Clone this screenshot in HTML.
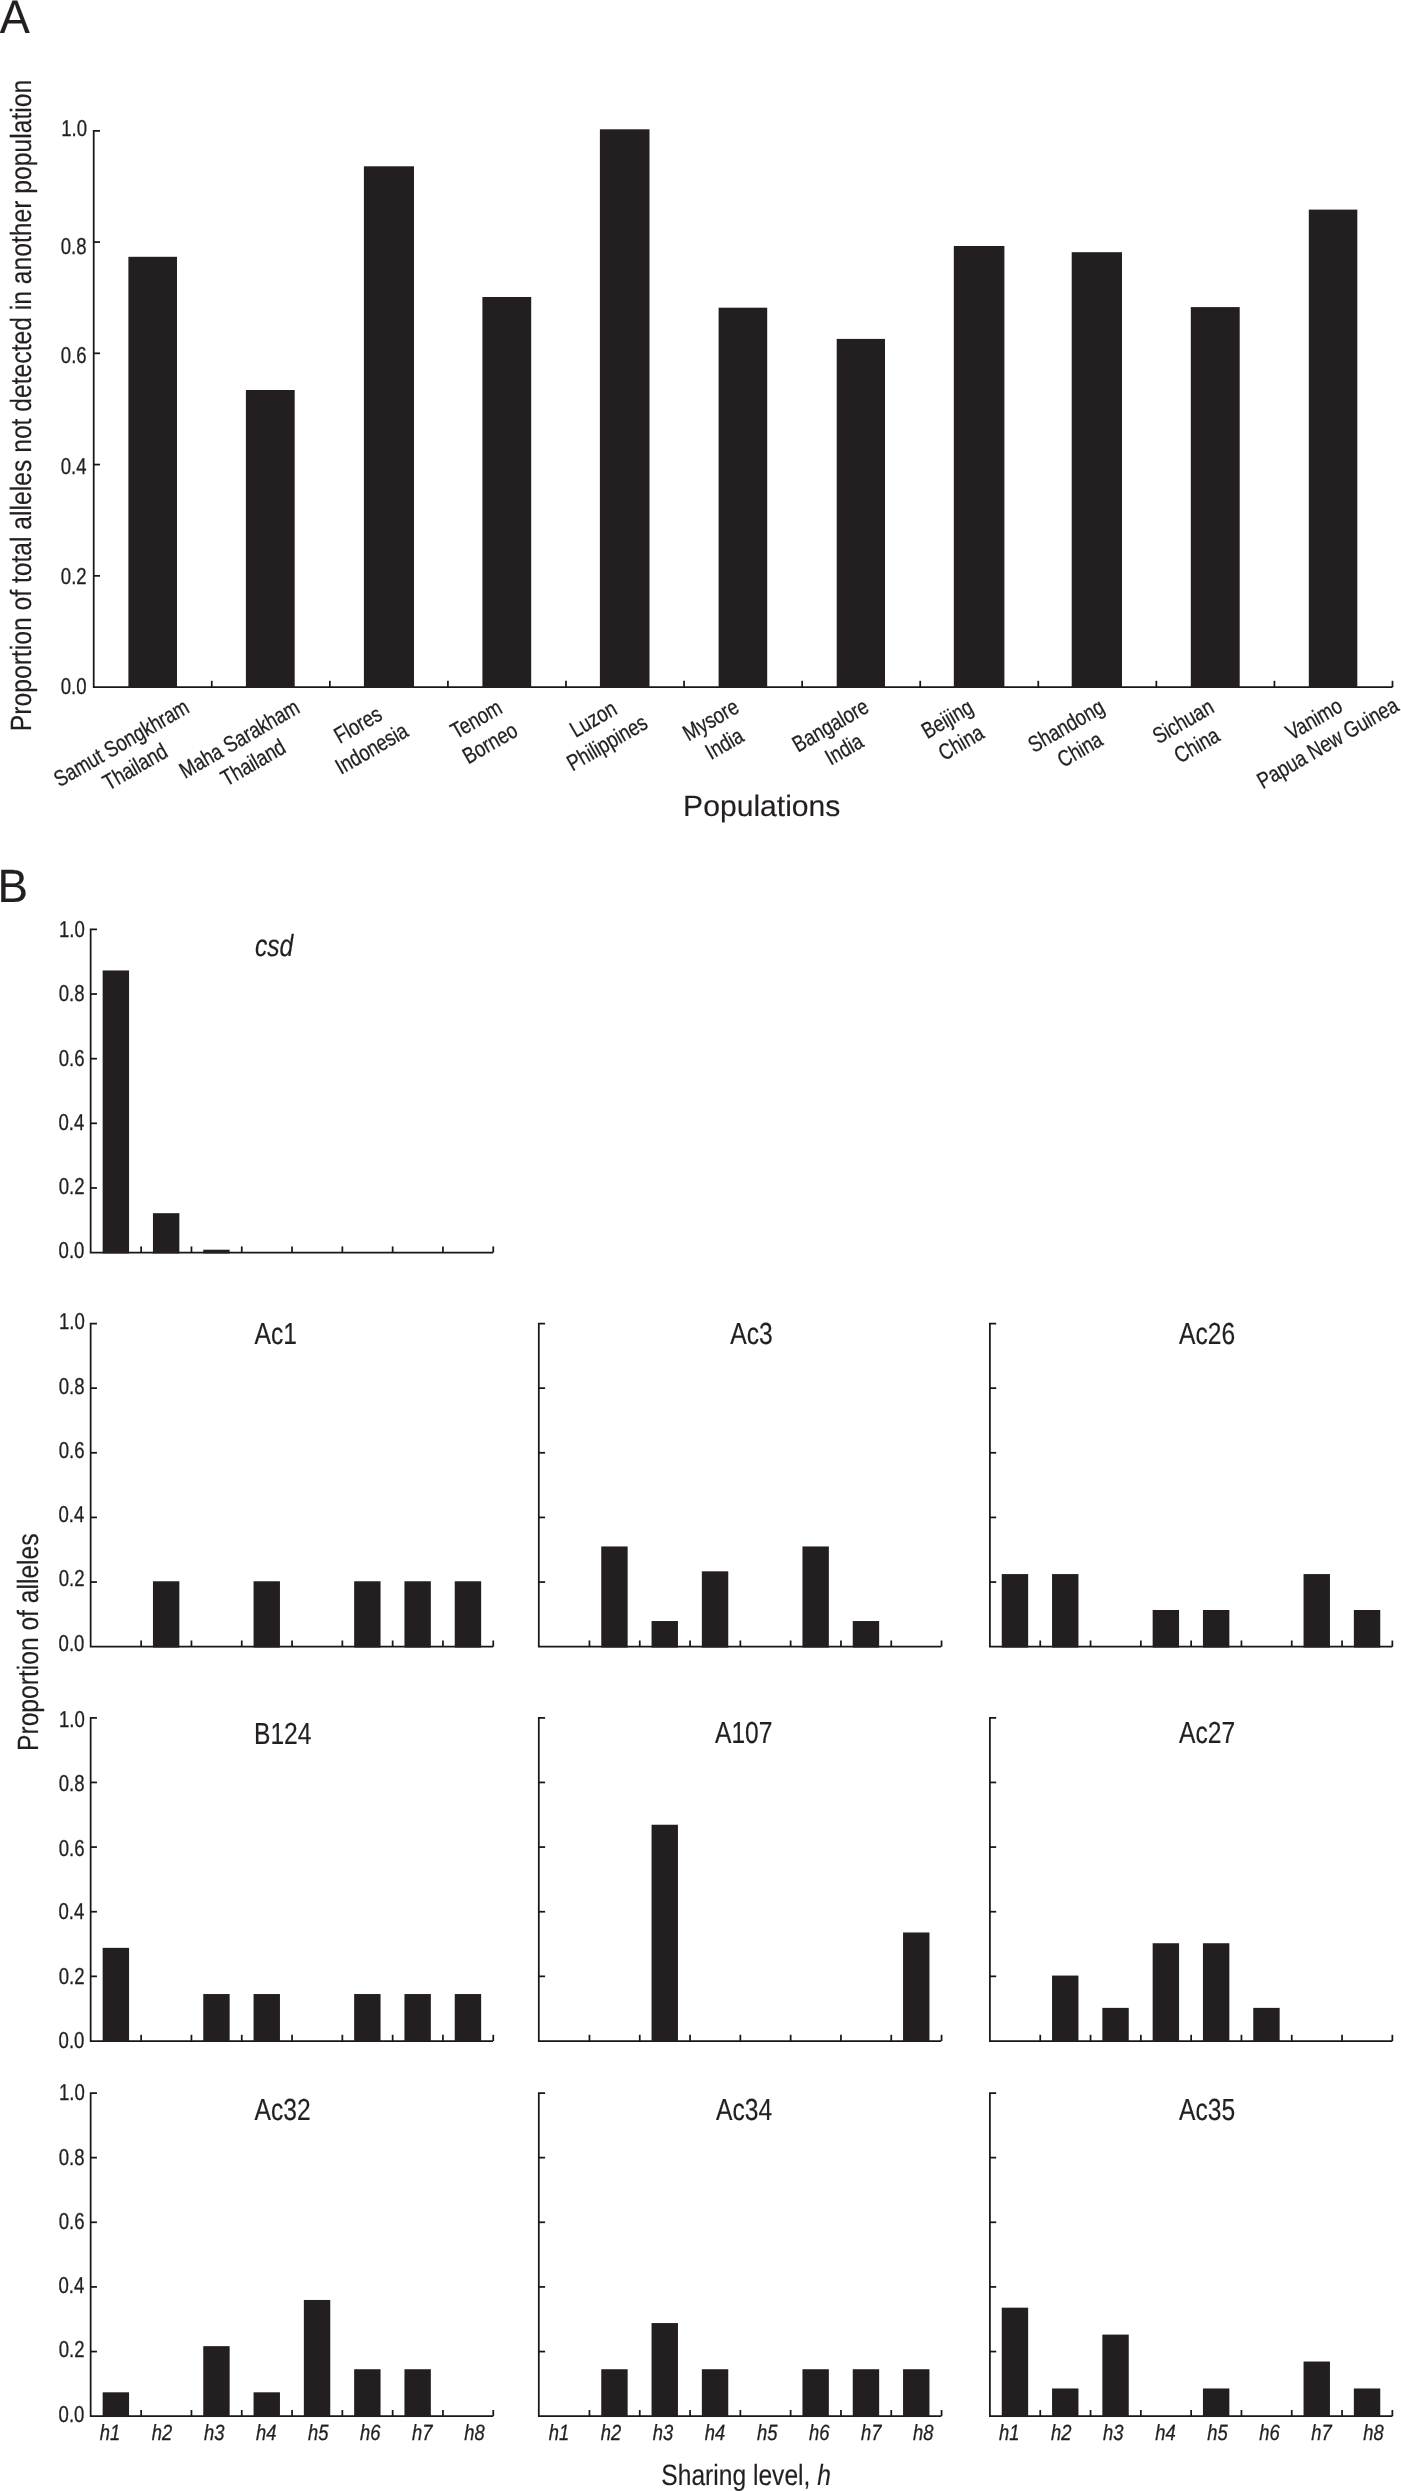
<!DOCTYPE html>
<html><head><meta charset="utf-8"><title>Figure</title>
<style>
html,body{margin:0;padding:0;background:#fff;}
svg{display:block;will-change:transform;}
text{font-family:"Liberation Sans",sans-serif;text-rendering:geometricPrecision;fill:#231f20;stroke:#231f20;}
</style></head><body>
<svg width="1401" height="2491" viewBox="0 0 1401 2491" stroke-width="0.3">
<rect width="1401" height="2491" fill="#ffffff"/>
<text id="pA" transform="translate(-0.16,32.90) scale(0.9550,1)" font-size="47.2" text-anchor="start" stroke-width="0.15">A</text>
<path d="M100.0 130.8H93.7V687.1H1392.5" stroke="#1a1617" stroke-width="1.75" fill="none"/>
<text id="tA0" transform="translate(86.62,694.20) scale(0.8080,1)" font-size="23" text-anchor="end">0.0</text>
<path d="M93.70 575.84L100.00 575.84" stroke="#1a1617" stroke-width="1.75" fill="none"/>
<text id="tA1" transform="translate(86.64,583.80) scale(0.8080,1)" font-size="23" text-anchor="end">0.2</text>
<path d="M93.70 464.58L100.00 464.58" stroke="#1a1617" stroke-width="1.75" fill="none"/>
<text id="tA2" transform="translate(86.50,474.05) scale(0.8080,1)" font-size="23" text-anchor="end">0.4</text>
<path d="M93.70 353.32L100.00 353.32" stroke="#1a1617" stroke-width="1.75" fill="none"/>
<text id="tA3" transform="translate(86.64,363.14) scale(0.8080,1)" font-size="23" text-anchor="end">0.6</text>
<path d="M93.70 242.06L100.00 242.06" stroke="#1a1617" stroke-width="1.75" fill="none"/>
<text id="tA4" transform="translate(86.63,253.79) scale(0.8080,1)" font-size="23" text-anchor="end">0.8</text>
<text id="tA5" transform="translate(87.02,135.81) scale(0.8080,1)" font-size="23" text-anchor="end">1.0</text>
<path d="M211.77 687.10L211.77 680.80" stroke="#1a1617" stroke-width="1.75" fill="none"/>
<path d="M329.85 687.10L329.85 680.80" stroke="#1a1617" stroke-width="1.75" fill="none"/>
<path d="M447.92 687.10L447.92 680.80" stroke="#1a1617" stroke-width="1.75" fill="none"/>
<path d="M565.99 687.10L565.99 680.80" stroke="#1a1617" stroke-width="1.75" fill="none"/>
<path d="M684.06 687.10L684.06 680.80" stroke="#1a1617" stroke-width="1.75" fill="none"/>
<path d="M802.14 687.10L802.14 680.80" stroke="#1a1617" stroke-width="1.75" fill="none"/>
<path d="M920.21 687.10L920.21 680.80" stroke="#1a1617" stroke-width="1.75" fill="none"/>
<path d="M1038.28 687.10L1038.28 680.80" stroke="#1a1617" stroke-width="1.75" fill="none"/>
<path d="M1156.35 687.10L1156.35 680.80" stroke="#1a1617" stroke-width="1.75" fill="none"/>
<path d="M1274.43 687.10L1274.43 680.80" stroke="#1a1617" stroke-width="1.75" fill="none"/>
<path d="M1392.50 687.10L1392.50 680.80" stroke="#1a1617" stroke-width="1.75" fill="none"/>
<rect x="128.40" y="256.80" width="48.60" height="431.15" fill="#231f20"/>
<rect x="245.90" y="390.00" width="48.80" height="297.95" fill="#231f20"/>
<rect x="363.90" y="166.30" width="50.10" height="521.65" fill="#231f20"/>
<rect x="482.40" y="297.00" width="48.80" height="390.95" fill="#231f20"/>
<rect x="599.90" y="129.30" width="49.60" height="558.65" fill="#231f20"/>
<rect x="718.60" y="307.70" width="48.60" height="380.25" fill="#231f20"/>
<rect x="836.70" y="338.90" width="48.30" height="349.05" fill="#231f20"/>
<rect x="953.80" y="246.00" width="50.60" height="441.95" fill="#231f20"/>
<rect x="1071.70" y="252.20" width="50.30" height="435.75" fill="#231f20"/>
<rect x="1190.80" y="307.10" width="48.90" height="380.85" fill="#231f20"/>
<rect x="1308.80" y="209.60" width="48.50" height="478.35" fill="#231f20"/>
<text id="ylA" transform="translate(30.85,405.49) rotate(-90) scale(0.8420,1)" font-size="29.3" text-anchor="middle" stroke-width="0.15">Proportion of total alleles not detected in another population</text>
<text id="xlA" transform="translate(761.73,816.40) scale(1.0200,1)" font-size="29.5" text-anchor="middle" stroke-width="0.15">Populations</text>
<g id="rl0" transform="translate(128.07,754.61) rotate(-30)">
<text transform="translate(0,-5.85) scale(0.81,1)" font-size="22.6" text-anchor="middle">Samut Songkhram</text>
<text transform="translate(0,21.65) scale(0.81,1)" font-size="22.6" text-anchor="middle">Thailand</text>
</g>
<g id="rl1" transform="translate(246.11,750.47) rotate(-30)">
<text transform="translate(0,-5.85) scale(0.81,1)" font-size="22.6" text-anchor="middle">Maha Sarakham</text>
<text transform="translate(0,21.65) scale(0.81,1)" font-size="22.6" text-anchor="middle">Thailand</text>
</g>
<g id="rl2" transform="translate(364.65,736.40) rotate(-30)">
<text transform="translate(0,-5.85) scale(0.81,1)" font-size="22.6" text-anchor="middle">Flores</text>
<text transform="translate(0,21.65) scale(0.81,1)" font-size="22.6" text-anchor="middle">Indonesia</text>
</g>
<g id="rl3" transform="translate(482.91,730.95) rotate(-30)">
<text transform="translate(0,-5.85) scale(0.81,1)" font-size="22.6" text-anchor="middle">Tenom</text>
<text transform="translate(0,21.65) scale(0.81,1)" font-size="22.6" text-anchor="middle">Borneo</text>
</g>
<g id="rl4" transform="translate(600.00,730.62) rotate(-30)">
<text transform="translate(0,-5.85) scale(0.81,1)" font-size="22.6" text-anchor="middle">Luzon</text>
<text transform="translate(0,21.65) scale(0.81,1)" font-size="22.6" text-anchor="middle">Philippines</text>
</g>
<g id="rl5" transform="translate(717.41,731.48) rotate(-30)">
<text transform="translate(0,-5.85) scale(0.81,1)" font-size="22.6" text-anchor="middle">Mysore</text>
<text transform="translate(0,21.65) scale(0.81,1)" font-size="22.6" text-anchor="middle">India</text>
</g>
<g id="rl6" transform="translate(837.12,737.03) rotate(-30)">
<text transform="translate(0,-5.85) scale(0.81,1)" font-size="22.6" text-anchor="middle">Bangalore</text>
<text transform="translate(0,21.65) scale(0.81,1)" font-size="22.6" text-anchor="middle">India</text>
</g>
<g id="rl7" transform="translate(953.99,730.49) rotate(-30)">
<text transform="translate(0,-5.85) scale(0.81,1)" font-size="22.6" text-anchor="middle">Beijing</text>
<text transform="translate(0,21.65) scale(0.81,1)" font-size="22.6" text-anchor="middle">China</text>
</g>
<g id="rl8" transform="translate(1072.83,737.40) rotate(-30)">
<text transform="translate(0,-5.85) scale(0.81,1)" font-size="22.6" text-anchor="middle">Shandong</text>
<text transform="translate(0,21.65) scale(0.81,1)" font-size="22.6" text-anchor="middle">China</text>
</g>
<g id="rl9" transform="translate(1189.75,733.07) rotate(-30)">
<text transform="translate(0,-5.85) scale(0.81,1)" font-size="22.6" text-anchor="middle">Sichuan</text>
<text transform="translate(0,21.65) scale(0.81,1)" font-size="22.6" text-anchor="middle">China</text>
</g>
<g id="rl10" transform="translate(1320.67,730.76) rotate(-30)">
<text transform="translate(0,-5.85) scale(0.81,1)" font-size="22.6" text-anchor="middle">Vanimo</text>
<text transform="translate(0,21.65) scale(0.81,1)" font-size="22.6" text-anchor="middle">Papua New Guinea</text>
</g>
<text id="pB" transform="translate(-2.56,902.21) scale(0.9800,1)" font-size="46.6" text-anchor="start" stroke-width="0.15">B</text>
<path d="M96.95 929.4H90.65V1252.6H493.04999999999995" stroke="#1a1617" stroke-width="1.75" fill="none"/>
<text id="tB00" transform="translate(84.46,1258.36) scale(0.8080,1)" font-size="23" text-anchor="end">0.0</text>
<path d="M90.65 1187.96L96.95 1187.96" stroke="#1a1617" stroke-width="1.75" fill="none"/>
<text id="tB01" transform="translate(84.58,1193.71) scale(0.8080,1)" font-size="23" text-anchor="end">0.2</text>
<path d="M90.65 1123.32L96.95 1123.32" stroke="#1a1617" stroke-width="1.75" fill="none"/>
<text id="tB02" transform="translate(84.33,1129.84) scale(0.8080,1)" font-size="23" text-anchor="end">0.4</text>
<path d="M90.65 1058.68L96.95 1058.68" stroke="#1a1617" stroke-width="1.75" fill="none"/>
<text id="tB03" transform="translate(84.59,1065.64) scale(0.8080,1)" font-size="23" text-anchor="end">0.6</text>
<path d="M90.65 994.04L96.95 994.04" stroke="#1a1617" stroke-width="1.75" fill="none"/>
<text id="tB04" transform="translate(84.59,1001.09) scale(0.8080,1)" font-size="23" text-anchor="end">0.8</text>
<text id="tB05" transform="translate(84.80,936.91) scale(0.8080,1)" font-size="23" text-anchor="end">1.0</text>
<path d="M141.15 1252.60L141.15 1246.40" stroke="#1a1617" stroke-width="1.75" fill="none"/>
<path d="M191.45 1252.60L191.45 1246.40" stroke="#1a1617" stroke-width="1.75" fill="none"/>
<path d="M241.75 1252.60L241.75 1246.40" stroke="#1a1617" stroke-width="1.75" fill="none"/>
<path d="M292.05 1252.60L292.05 1246.40" stroke="#1a1617" stroke-width="1.75" fill="none"/>
<path d="M342.35 1252.60L342.35 1246.40" stroke="#1a1617" stroke-width="1.75" fill="none"/>
<path d="M392.65 1252.60L392.65 1246.40" stroke="#1a1617" stroke-width="1.75" fill="none"/>
<path d="M442.95 1252.60L442.95 1246.40" stroke="#1a1617" stroke-width="1.75" fill="none"/>
<path d="M493.25 1252.60L493.25 1246.40" stroke="#1a1617" stroke-width="1.75" fill="none"/>
<rect x="102.65" y="970.45" width="26.40" height="283.00" fill="#231f20"/>
<rect x="152.95" y="1213.18" width="26.40" height="40.27" fill="#231f20"/>
<rect x="203.25" y="1249.70" width="26.40" height="3.75" fill="#231f20"/>
<text id="tcsd" transform="translate(254.88,956.08) scale(0.8070,1)" font-size="30.5" text-anchor="start" font-style="italic" stroke-width="0.2">csd</text>
<path d="M96.95 1323.5H90.65V1646.7H493.04999999999995" stroke="#1a1617" stroke-width="1.75" fill="none"/>
<text id="tB10" transform="translate(84.46,1650.90) scale(0.8080,1)" font-size="23" text-anchor="end">0.0</text>
<path d="M90.65 1582.06L96.95 1582.06" stroke="#1a1617" stroke-width="1.75" fill="none"/>
<text id="tB11" transform="translate(84.58,1586.29) scale(0.8080,1)" font-size="23" text-anchor="end">0.2</text>
<path d="M90.65 1517.42L96.95 1517.42" stroke="#1a1617" stroke-width="1.75" fill="none"/>
<text id="tB12" transform="translate(84.33,1521.99) scale(0.8080,1)" font-size="23" text-anchor="end">0.4</text>
<path d="M90.65 1452.78L96.95 1452.78" stroke="#1a1617" stroke-width="1.75" fill="none"/>
<text id="tB13" transform="translate(84.59,1457.74) scale(0.8080,1)" font-size="23" text-anchor="end">0.6</text>
<path d="M90.65 1388.14L96.95 1388.14" stroke="#1a1617" stroke-width="1.75" fill="none"/>
<text id="tB14" transform="translate(84.59,1393.64) scale(0.8080,1)" font-size="23" text-anchor="end">0.8</text>
<text id="tB15" transform="translate(84.80,1329.34) scale(0.8080,1)" font-size="23" text-anchor="end">1.0</text>
<path d="M141.15 1646.70L141.15 1640.50" stroke="#1a1617" stroke-width="1.75" fill="none"/>
<path d="M191.45 1646.70L191.45 1640.50" stroke="#1a1617" stroke-width="1.75" fill="none"/>
<path d="M241.75 1646.70L241.75 1640.50" stroke="#1a1617" stroke-width="1.75" fill="none"/>
<path d="M292.05 1646.70L292.05 1640.50" stroke="#1a1617" stroke-width="1.75" fill="none"/>
<path d="M342.35 1646.70L342.35 1640.50" stroke="#1a1617" stroke-width="1.75" fill="none"/>
<path d="M392.65 1646.70L392.65 1640.50" stroke="#1a1617" stroke-width="1.75" fill="none"/>
<path d="M442.95 1646.70L442.95 1640.50" stroke="#1a1617" stroke-width="1.75" fill="none"/>
<path d="M493.25 1646.70L493.25 1640.50" stroke="#1a1617" stroke-width="1.75" fill="none"/>
<rect x="152.95" y="1581.26" width="26.40" height="66.29" fill="#231f20"/>
<rect x="253.55" y="1581.26" width="26.40" height="66.29" fill="#231f20"/>
<rect x="354.15" y="1581.26" width="26.40" height="66.29" fill="#231f20"/>
<rect x="404.45" y="1581.26" width="26.40" height="66.29" fill="#231f20"/>
<rect x="454.75" y="1581.26" width="26.40" height="66.29" fill="#231f20"/>
<text id="tAc1" transform="translate(254.50,1343.83) scale(0.8070,1)" font-size="30.5" text-anchor="start" stroke-width="0.2">Ac1</text>
<path d="M545.0999999999999 1323.5H538.8V1646.7H941.1999999999999" stroke="#1a1617" stroke-width="1.75" fill="none"/>
<path d="M538.80 1582.06L545.10 1582.06" stroke="#1a1617" stroke-width="1.75" fill="none"/>
<path d="M538.80 1517.42L545.10 1517.42" stroke="#1a1617" stroke-width="1.75" fill="none"/>
<path d="M538.80 1452.78L545.10 1452.78" stroke="#1a1617" stroke-width="1.75" fill="none"/>
<path d="M538.80 1388.14L545.10 1388.14" stroke="#1a1617" stroke-width="1.75" fill="none"/>
<path d="M589.45 1646.70L589.45 1640.50" stroke="#1a1617" stroke-width="1.75" fill="none"/>
<path d="M639.75 1646.70L639.75 1640.50" stroke="#1a1617" stroke-width="1.75" fill="none"/>
<path d="M690.05 1646.70L690.05 1640.50" stroke="#1a1617" stroke-width="1.75" fill="none"/>
<path d="M740.35 1646.70L740.35 1640.50" stroke="#1a1617" stroke-width="1.75" fill="none"/>
<path d="M790.65 1646.70L790.65 1640.50" stroke="#1a1617" stroke-width="1.75" fill="none"/>
<path d="M840.95 1646.70L840.95 1640.50" stroke="#1a1617" stroke-width="1.75" fill="none"/>
<path d="M891.25 1646.70L891.25 1640.50" stroke="#1a1617" stroke-width="1.75" fill="none"/>
<path d="M941.55 1646.70L941.55 1640.50" stroke="#1a1617" stroke-width="1.75" fill="none"/>
<rect x="601.25" y="1546.45" width="26.40" height="101.10" fill="#231f20"/>
<rect x="651.55" y="1621.04" width="26.40" height="26.51" fill="#231f20"/>
<rect x="701.85" y="1571.32" width="26.40" height="76.23" fill="#231f20"/>
<rect x="802.45" y="1546.45" width="26.40" height="101.10" fill="#231f20"/>
<rect x="852.75" y="1621.04" width="26.40" height="26.51" fill="#231f20"/>
<text id="tAc3" transform="translate(730.24,1343.90) scale(0.8070,1)" font-size="30.5" text-anchor="start" stroke-width="0.2">Ac3</text>
<path d="M996.1999999999999 1323.5H989.9V1646.7H1392.3" stroke="#1a1617" stroke-width="1.75" fill="none"/>
<path d="M989.90 1582.06L996.20 1582.06" stroke="#1a1617" stroke-width="1.75" fill="none"/>
<path d="M989.90 1517.42L996.20 1517.42" stroke="#1a1617" stroke-width="1.75" fill="none"/>
<path d="M989.90 1452.78L996.20 1452.78" stroke="#1a1617" stroke-width="1.75" fill="none"/>
<path d="M989.90 1388.14L996.20 1388.14" stroke="#1a1617" stroke-width="1.75" fill="none"/>
<path d="M1040.25 1646.70L1040.25 1640.50" stroke="#1a1617" stroke-width="1.75" fill="none"/>
<path d="M1090.55 1646.70L1090.55 1640.50" stroke="#1a1617" stroke-width="1.75" fill="none"/>
<path d="M1140.85 1646.70L1140.85 1640.50" stroke="#1a1617" stroke-width="1.75" fill="none"/>
<path d="M1191.15 1646.70L1191.15 1640.50" stroke="#1a1617" stroke-width="1.75" fill="none"/>
<path d="M1241.45 1646.70L1241.45 1640.50" stroke="#1a1617" stroke-width="1.75" fill="none"/>
<path d="M1291.75 1646.70L1291.75 1640.50" stroke="#1a1617" stroke-width="1.75" fill="none"/>
<path d="M1342.05 1646.70L1342.05 1640.50" stroke="#1a1617" stroke-width="1.75" fill="none"/>
<path d="M1392.35 1646.70L1392.35 1640.50" stroke="#1a1617" stroke-width="1.75" fill="none"/>
<rect x="1001.75" y="1574.08" width="26.40" height="73.47" fill="#231f20"/>
<rect x="1052.05" y="1574.08" width="26.40" height="73.47" fill="#231f20"/>
<rect x="1152.65" y="1609.99" width="26.40" height="37.56" fill="#231f20"/>
<rect x="1202.95" y="1609.99" width="26.40" height="37.56" fill="#231f20"/>
<rect x="1303.55" y="1574.08" width="26.40" height="73.47" fill="#231f20"/>
<rect x="1353.85" y="1609.99" width="26.40" height="37.56" fill="#231f20"/>
<text id="tAc26" transform="translate(1179.02,1343.90) scale(0.8070,1)" font-size="30.5" text-anchor="start" stroke-width="0.2">Ac26</text>
<path d="M96.95 1717.8H90.65V2041.0H493.04999999999995" stroke="#1a1617" stroke-width="1.75" fill="none"/>
<text id="tB20" transform="translate(84.46,2048.41) scale(0.8080,1)" font-size="23" text-anchor="end">0.0</text>
<path d="M90.65 1976.36L96.95 1976.36" stroke="#1a1617" stroke-width="1.75" fill="none"/>
<text id="tB21" transform="translate(84.58,1983.84) scale(0.8080,1)" font-size="23" text-anchor="end">0.2</text>
<path d="M90.65 1911.72L96.95 1911.72" stroke="#1a1617" stroke-width="1.75" fill="none"/>
<text id="tB22" transform="translate(84.33,1919.49) scale(0.8080,1)" font-size="23" text-anchor="end">0.4</text>
<path d="M90.65 1847.08L96.95 1847.08" stroke="#1a1617" stroke-width="1.75" fill="none"/>
<text id="tB23" transform="translate(84.59,1855.56) scale(0.8080,1)" font-size="23" text-anchor="end">0.6</text>
<path d="M90.65 1782.44L96.95 1782.44" stroke="#1a1617" stroke-width="1.75" fill="none"/>
<text id="tB24" transform="translate(84.59,1791.34) scale(0.8080,1)" font-size="23" text-anchor="end">0.8</text>
<text id="tB25" transform="translate(84.80,1726.99) scale(0.8080,1)" font-size="23" text-anchor="end">1.0</text>
<path d="M141.15 2041.00L141.15 2034.80" stroke="#1a1617" stroke-width="1.75" fill="none"/>
<path d="M191.45 2041.00L191.45 2034.80" stroke="#1a1617" stroke-width="1.75" fill="none"/>
<path d="M241.75 2041.00L241.75 2034.80" stroke="#1a1617" stroke-width="1.75" fill="none"/>
<path d="M292.05 2041.00L292.05 2034.80" stroke="#1a1617" stroke-width="1.75" fill="none"/>
<path d="M342.35 2041.00L342.35 2034.80" stroke="#1a1617" stroke-width="1.75" fill="none"/>
<path d="M392.65 2041.00L392.65 2034.80" stroke="#1a1617" stroke-width="1.75" fill="none"/>
<path d="M442.95 2041.00L442.95 2034.80" stroke="#1a1617" stroke-width="1.75" fill="none"/>
<path d="M493.25 2041.00L493.25 2034.80" stroke="#1a1617" stroke-width="1.75" fill="none"/>
<rect x="102.65" y="1947.86" width="26.40" height="93.99" fill="#231f20"/>
<rect x="203.25" y="1994.03" width="26.40" height="47.82" fill="#231f20"/>
<rect x="253.55" y="1994.03" width="26.40" height="47.82" fill="#231f20"/>
<rect x="354.15" y="1994.03" width="26.40" height="47.82" fill="#231f20"/>
<rect x="404.45" y="1994.03" width="26.40" height="47.82" fill="#231f20"/>
<rect x="454.75" y="1994.03" width="26.40" height="47.82" fill="#231f20"/>
<text id="tB124" transform="translate(254.00,1743.80) scale(0.8070,1)" font-size="30.5" text-anchor="start" stroke-width="0.2">B124</text>
<path d="M545.0999999999999 1717.8H538.8V2041.0H941.1999999999999" stroke="#1a1617" stroke-width="1.75" fill="none"/>
<path d="M538.80 1976.36L545.10 1976.36" stroke="#1a1617" stroke-width="1.75" fill="none"/>
<path d="M538.80 1911.72L545.10 1911.72" stroke="#1a1617" stroke-width="1.75" fill="none"/>
<path d="M538.80 1847.08L545.10 1847.08" stroke="#1a1617" stroke-width="1.75" fill="none"/>
<path d="M538.80 1782.44L545.10 1782.44" stroke="#1a1617" stroke-width="1.75" fill="none"/>
<path d="M589.45 2041.00L589.45 2034.80" stroke="#1a1617" stroke-width="1.75" fill="none"/>
<path d="M639.75 2041.00L639.75 2034.80" stroke="#1a1617" stroke-width="1.75" fill="none"/>
<path d="M690.05 2041.00L690.05 2034.80" stroke="#1a1617" stroke-width="1.75" fill="none"/>
<path d="M740.35 2041.00L740.35 2034.80" stroke="#1a1617" stroke-width="1.75" fill="none"/>
<path d="M790.65 2041.00L790.65 2034.80" stroke="#1a1617" stroke-width="1.75" fill="none"/>
<path d="M840.95 2041.00L840.95 2034.80" stroke="#1a1617" stroke-width="1.75" fill="none"/>
<path d="M891.25 2041.00L891.25 2034.80" stroke="#1a1617" stroke-width="1.75" fill="none"/>
<path d="M941.55 2041.00L941.55 2034.80" stroke="#1a1617" stroke-width="1.75" fill="none"/>
<rect x="651.55" y="1824.73" width="26.40" height="217.12" fill="#231f20"/>
<rect x="903.05" y="1932.47" width="26.40" height="109.38" fill="#231f20"/>
<text id="tA107" transform="translate(715.01,1743.10) scale(0.8070,1)" font-size="30.5" text-anchor="start" stroke-width="0.2">A107</text>
<path d="M996.1999999999999 1717.8H989.9V2041.0H1392.3" stroke="#1a1617" stroke-width="1.75" fill="none"/>
<path d="M989.90 1976.36L996.20 1976.36" stroke="#1a1617" stroke-width="1.75" fill="none"/>
<path d="M989.90 1911.72L996.20 1911.72" stroke="#1a1617" stroke-width="1.75" fill="none"/>
<path d="M989.90 1847.08L996.20 1847.08" stroke="#1a1617" stroke-width="1.75" fill="none"/>
<path d="M989.90 1782.44L996.20 1782.44" stroke="#1a1617" stroke-width="1.75" fill="none"/>
<path d="M1040.25 2041.00L1040.25 2034.80" stroke="#1a1617" stroke-width="1.75" fill="none"/>
<path d="M1090.55 2041.00L1090.55 2034.80" stroke="#1a1617" stroke-width="1.75" fill="none"/>
<path d="M1140.85 2041.00L1140.85 2034.80" stroke="#1a1617" stroke-width="1.75" fill="none"/>
<path d="M1191.15 2041.00L1191.15 2034.80" stroke="#1a1617" stroke-width="1.75" fill="none"/>
<path d="M1241.45 2041.00L1241.45 2034.80" stroke="#1a1617" stroke-width="1.75" fill="none"/>
<path d="M1291.75 2041.00L1291.75 2034.80" stroke="#1a1617" stroke-width="1.75" fill="none"/>
<path d="M1342.05 2041.00L1342.05 2034.80" stroke="#1a1617" stroke-width="1.75" fill="none"/>
<path d="M1392.35 2041.00L1392.35 2034.80" stroke="#1a1617" stroke-width="1.75" fill="none"/>
<rect x="1052.05" y="1975.56" width="26.40" height="66.29" fill="#231f20"/>
<rect x="1102.35" y="2007.88" width="26.40" height="33.97" fill="#231f20"/>
<rect x="1152.65" y="1943.24" width="26.40" height="98.61" fill="#231f20"/>
<rect x="1202.95" y="1943.24" width="26.40" height="98.61" fill="#231f20"/>
<rect x="1253.25" y="2007.88" width="26.40" height="33.97" fill="#231f20"/>
<text id="tAc27" transform="translate(1179.02,1743.10) scale(0.8070,1)" font-size="30.5" text-anchor="start" stroke-width="0.2">Ac27</text>
<path d="M96.95 2093.0H90.65V2416.2H493.04999999999995" stroke="#1a1617" stroke-width="1.75" fill="none"/>
<text id="tB30" transform="translate(84.46,2422.04) scale(0.8080,1)" font-size="23" text-anchor="end">0.0</text>
<path d="M90.65 2351.56L96.95 2351.56" stroke="#1a1617" stroke-width="1.75" fill="none"/>
<text id="tB31" transform="translate(84.58,2357.49) scale(0.8080,1)" font-size="23" text-anchor="end">0.2</text>
<path d="M90.65 2286.92L96.95 2286.92" stroke="#1a1617" stroke-width="1.75" fill="none"/>
<text id="tB32" transform="translate(84.33,2293.29) scale(0.8080,1)" font-size="23" text-anchor="end">0.4</text>
<path d="M90.65 2222.28L96.95 2222.28" stroke="#1a1617" stroke-width="1.75" fill="none"/>
<text id="tB33" transform="translate(84.59,2228.86) scale(0.8080,1)" font-size="23" text-anchor="end">0.6</text>
<path d="M90.65 2157.64L96.95 2157.64" stroke="#1a1617" stroke-width="1.75" fill="none"/>
<text id="tB34" transform="translate(84.59,2164.61) scale(0.8080,1)" font-size="23" text-anchor="end">0.8</text>
<text id="tB35" transform="translate(84.80,2100.16) scale(0.8080,1)" font-size="23" text-anchor="end">1.0</text>
<path d="M141.15 2416.20L141.15 2410.00" stroke="#1a1617" stroke-width="1.75" fill="none"/>
<path d="M191.45 2416.20L191.45 2410.00" stroke="#1a1617" stroke-width="1.75" fill="none"/>
<path d="M241.75 2416.20L241.75 2410.00" stroke="#1a1617" stroke-width="1.75" fill="none"/>
<path d="M292.05 2416.20L292.05 2410.00" stroke="#1a1617" stroke-width="1.75" fill="none"/>
<path d="M342.35 2416.20L342.35 2410.00" stroke="#1a1617" stroke-width="1.75" fill="none"/>
<path d="M392.65 2416.20L392.65 2410.00" stroke="#1a1617" stroke-width="1.75" fill="none"/>
<path d="M442.95 2416.20L442.95 2410.00" stroke="#1a1617" stroke-width="1.75" fill="none"/>
<path d="M493.25 2416.20L493.25 2410.00" stroke="#1a1617" stroke-width="1.75" fill="none"/>
<rect x="102.65" y="2392.31" width="26.40" height="24.74" fill="#231f20"/>
<rect x="203.25" y="2346.14" width="26.40" height="70.91" fill="#231f20"/>
<rect x="253.55" y="2392.31" width="26.40" height="24.74" fill="#231f20"/>
<rect x="303.85" y="2299.97" width="26.40" height="117.08" fill="#231f20"/>
<rect x="354.15" y="2369.23" width="26.40" height="47.82" fill="#231f20"/>
<rect x="404.45" y="2369.23" width="26.40" height="47.82" fill="#231f20"/>
<text id="tAc32" transform="translate(254.56,2120.10) scale(0.8070,1)" font-size="30.5" text-anchor="start" stroke-width="0.2">Ac32</text>
<text id="h00" transform="translate(99.80,2440.25) scale(0.8340,1)" font-size="22.0" text-anchor="start" font-style="italic">h1</text>
<text id="h01" transform="translate(151.80,2440.25) scale(0.8340,1)" font-size="22.0" text-anchor="start" font-style="italic">h2</text>
<text id="h02" transform="translate(204.05,2439.98) scale(0.8340,1)" font-size="22.0" text-anchor="start" font-style="italic">h3</text>
<text id="h03" transform="translate(256.05,2440.25) scale(0.8340,1)" font-size="22.0" text-anchor="start" font-style="italic">h4</text>
<text id="h04" transform="translate(308.05,2439.98) scale(0.8340,1)" font-size="22.0" text-anchor="start" font-style="italic">h5</text>
<text id="h05" transform="translate(360.05,2439.98) scale(0.8340,1)" font-size="22.0" text-anchor="start" font-style="italic">h6</text>
<text id="h06" transform="translate(412.05,2440.25) scale(0.8340,1)" font-size="22.0" text-anchor="start" font-style="italic">h7</text>
<text id="h07" transform="translate(464.30,2439.98) scale(0.8340,1)" font-size="22.0" text-anchor="start" font-style="italic">h8</text>
<path d="M545.0999999999999 2093.0H538.8V2416.2H941.1999999999999" stroke="#1a1617" stroke-width="1.75" fill="none"/>
<path d="M538.80 2351.56L545.10 2351.56" stroke="#1a1617" stroke-width="1.75" fill="none"/>
<path d="M538.80 2286.92L545.10 2286.92" stroke="#1a1617" stroke-width="1.75" fill="none"/>
<path d="M538.80 2222.28L545.10 2222.28" stroke="#1a1617" stroke-width="1.75" fill="none"/>
<path d="M538.80 2157.64L545.10 2157.64" stroke="#1a1617" stroke-width="1.75" fill="none"/>
<path d="M589.45 2416.20L589.45 2410.00" stroke="#1a1617" stroke-width="1.75" fill="none"/>
<path d="M639.75 2416.20L639.75 2410.00" stroke="#1a1617" stroke-width="1.75" fill="none"/>
<path d="M690.05 2416.20L690.05 2410.00" stroke="#1a1617" stroke-width="1.75" fill="none"/>
<path d="M740.35 2416.20L740.35 2410.00" stroke="#1a1617" stroke-width="1.75" fill="none"/>
<path d="M790.65 2416.20L790.65 2410.00" stroke="#1a1617" stroke-width="1.75" fill="none"/>
<path d="M840.95 2416.20L840.95 2410.00" stroke="#1a1617" stroke-width="1.75" fill="none"/>
<path d="M891.25 2416.20L891.25 2410.00" stroke="#1a1617" stroke-width="1.75" fill="none"/>
<path d="M941.55 2416.20L941.55 2410.00" stroke="#1a1617" stroke-width="1.75" fill="none"/>
<rect x="601.25" y="2369.23" width="26.40" height="47.82" fill="#231f20"/>
<rect x="651.55" y="2323.06" width="26.40" height="93.99" fill="#231f20"/>
<rect x="701.85" y="2369.23" width="26.40" height="47.82" fill="#231f20"/>
<rect x="802.45" y="2369.23" width="26.40" height="47.82" fill="#231f20"/>
<rect x="852.75" y="2369.23" width="26.40" height="47.82" fill="#231f20"/>
<rect x="903.05" y="2369.23" width="26.40" height="47.82" fill="#231f20"/>
<text id="tAc34" transform="translate(716.01,2120.10) scale(0.8070,1)" font-size="30.5" text-anchor="start" stroke-width="0.2">Ac34</text>
<text id="h10" transform="translate(548.75,2440.25) scale(0.8340,1)" font-size="22.0" text-anchor="start" font-style="italic">h1</text>
<text id="h11" transform="translate(600.75,2440.25) scale(0.8340,1)" font-size="22.0" text-anchor="start" font-style="italic">h2</text>
<text id="h12" transform="translate(652.75,2439.98) scale(0.8340,1)" font-size="22.0" text-anchor="start" font-style="italic">h3</text>
<text id="h13" transform="translate(704.75,2440.25) scale(0.8340,1)" font-size="22.0" text-anchor="start" font-style="italic">h4</text>
<text id="h14" transform="translate(757.00,2439.98) scale(0.8340,1)" font-size="22.0" text-anchor="start" font-style="italic">h5</text>
<text id="h15" transform="translate(809.00,2439.98) scale(0.8340,1)" font-size="22.0" text-anchor="start" font-style="italic">h6</text>
<text id="h16" transform="translate(861.00,2440.25) scale(0.8340,1)" font-size="22.0" text-anchor="start" font-style="italic">h7</text>
<text id="h17" transform="translate(913.00,2439.98) scale(0.8340,1)" font-size="22.0" text-anchor="start" font-style="italic">h8</text>
<path d="M996.1999999999999 2093.0H989.9V2416.2H1392.3" stroke="#1a1617" stroke-width="1.75" fill="none"/>
<path d="M989.90 2351.56L996.20 2351.56" stroke="#1a1617" stroke-width="1.75" fill="none"/>
<path d="M989.90 2286.92L996.20 2286.92" stroke="#1a1617" stroke-width="1.75" fill="none"/>
<path d="M989.90 2222.28L996.20 2222.28" stroke="#1a1617" stroke-width="1.75" fill="none"/>
<path d="M989.90 2157.64L996.20 2157.64" stroke="#1a1617" stroke-width="1.75" fill="none"/>
<path d="M1040.25 2416.20L1040.25 2410.00" stroke="#1a1617" stroke-width="1.75" fill="none"/>
<path d="M1090.55 2416.20L1090.55 2410.00" stroke="#1a1617" stroke-width="1.75" fill="none"/>
<path d="M1140.85 2416.20L1140.85 2410.00" stroke="#1a1617" stroke-width="1.75" fill="none"/>
<path d="M1191.15 2416.20L1191.15 2410.00" stroke="#1a1617" stroke-width="1.75" fill="none"/>
<path d="M1241.45 2416.20L1241.45 2410.00" stroke="#1a1617" stroke-width="1.75" fill="none"/>
<path d="M1291.75 2416.20L1291.75 2410.00" stroke="#1a1617" stroke-width="1.75" fill="none"/>
<path d="M1342.05 2416.20L1342.05 2410.00" stroke="#1a1617" stroke-width="1.75" fill="none"/>
<path d="M1392.35 2416.20L1392.35 2410.00" stroke="#1a1617" stroke-width="1.75" fill="none"/>
<rect x="1001.75" y="2307.67" width="26.40" height="109.38" fill="#231f20"/>
<rect x="1052.05" y="2388.47" width="26.40" height="28.58" fill="#231f20"/>
<rect x="1102.35" y="2334.60" width="26.40" height="82.45" fill="#231f20"/>
<rect x="1202.95" y="2388.47" width="26.40" height="28.58" fill="#231f20"/>
<rect x="1303.55" y="2361.53" width="26.40" height="55.52" fill="#231f20"/>
<rect x="1353.85" y="2388.47" width="26.40" height="28.58" fill="#231f20"/>
<text id="tAc35" transform="translate(1179.02,2120.10) scale(0.8070,1)" font-size="30.5" text-anchor="start" stroke-width="0.2">Ac35</text>
<text id="h20" transform="translate(998.95,2440.25) scale(0.8340,1)" font-size="22.0" text-anchor="start" font-style="italic">h1</text>
<text id="h21" transform="translate(1050.95,2440.25) scale(0.8340,1)" font-size="22.0" text-anchor="start" font-style="italic">h2</text>
<text id="h22" transform="translate(1102.95,2439.98) scale(0.8340,1)" font-size="22.0" text-anchor="start" font-style="italic">h3</text>
<text id="h23" transform="translate(1155.20,2440.25) scale(0.8340,1)" font-size="22.0" text-anchor="start" font-style="italic">h4</text>
<text id="h24" transform="translate(1207.20,2439.98) scale(0.8340,1)" font-size="22.0" text-anchor="start" font-style="italic">h5</text>
<text id="h25" transform="translate(1259.20,2439.98) scale(0.8340,1)" font-size="22.0" text-anchor="start" font-style="italic">h6</text>
<text id="h26" transform="translate(1311.20,2440.25) scale(0.8340,1)" font-size="22.0" text-anchor="start" font-style="italic">h7</text>
<text id="h27" transform="translate(1363.20,2439.98) scale(0.8340,1)" font-size="22.0" text-anchor="start" font-style="italic">h8</text>
<text id="ylB" transform="translate(38.10,1642.22) rotate(-90) scale(0.8400,1)" font-size="29.3" text-anchor="middle" stroke-width="0.15">Proportion of alleles</text>
<text id="xlB" transform="translate(661.29,2484.50) scale(0.8400,1)" font-size="29.3" text-anchor="start" stroke-width="0.15">Sharing level, <tspan font-style="italic">h</tspan></text>
</svg>
</body></html>
